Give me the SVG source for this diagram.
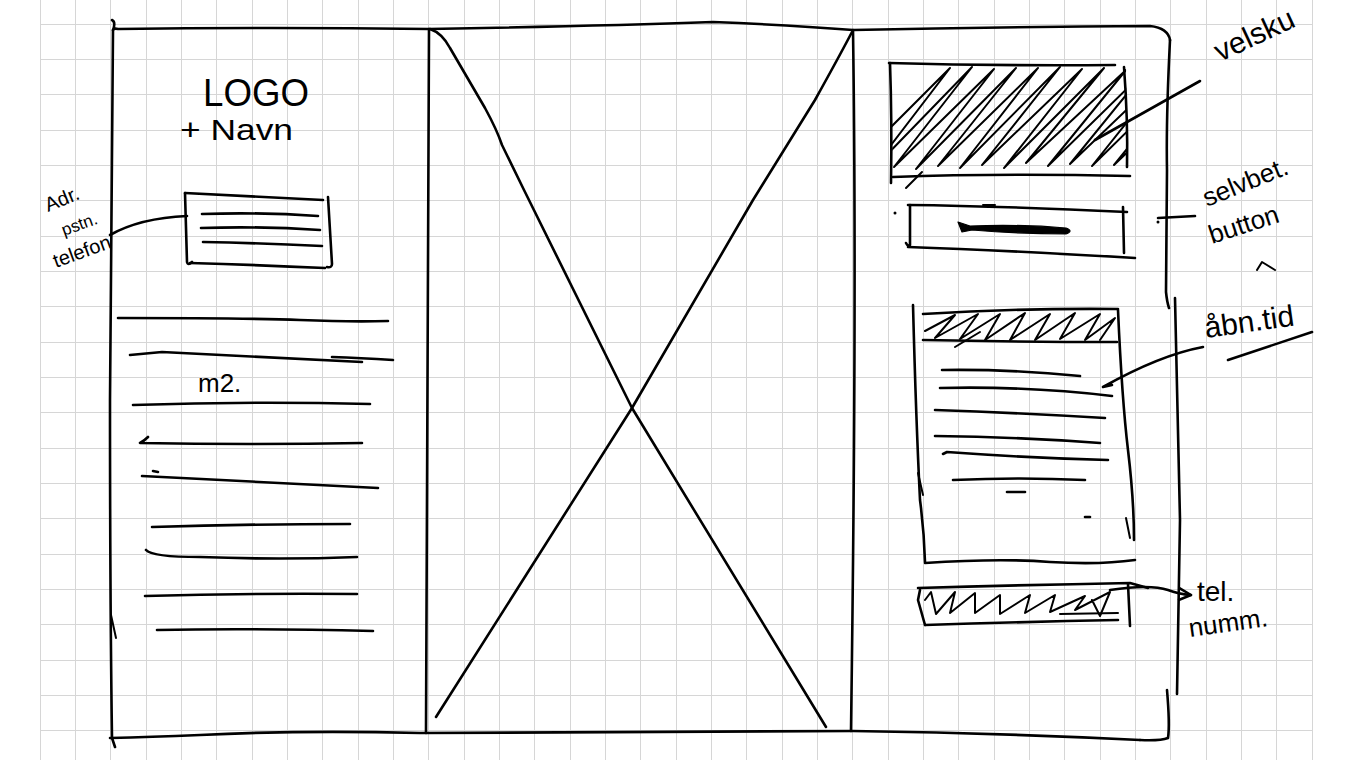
<svg xmlns="http://www.w3.org/2000/svg" width="1351" height="760" viewBox="0 0 1351 760">
<style>
.grid{fill:none;stroke:#d6d6d6;stroke-width:1}
.ink{fill:none;stroke:#000;stroke-width:2.6;stroke-linecap:round;stroke-linejoin:round}
.thin{fill:none;stroke:#000;stroke-width:2;stroke-linecap:round;stroke-linejoin:round}
.hw{font-family:"Liberation Sans","DejaVu Sans",sans-serif;fill:#000}
</style>
<defs>
<marker id="arr" viewBox="0 0 10 10" refX="9" refY="5" markerWidth="6" markerHeight="6" orient="auto" markerUnits="strokeWidth">
<path d="M1,1 L9,5 L1,9" fill="none" stroke="#000" stroke-width="1.6" stroke-linejoin="round"/>
</marker>
<clipPath id="clipHero"><path d="M890,64 L1126,66 L1127,176 L893,180 Z"/></clipPath>
</defs>
<rect width="1351" height="760" fill="#fff"/>
<path class="grid" d="M40.5 0V760M75.5 0V760M110.5 0V760M146.5 0V760M181.5 0V760M216.5 0V760M252.5 0V760M287.5 0V760M322.5 0V760M358.5 0V760M393.5 0V760M428.5 0V760M464.5 0V760M499.5 0V760M534.5 0V760M570.5 0V760M605.5 0V760M640.5 0V760M676.5 0V760M711.5 0V760M746.5 0V760M782.5 0V760M817.5 0V760M852.5 0V760M888.5 0V760M923.5 0V760M958.5 0V760M994.5 0V760M1029.5 0V760M1064.5 0V760M1100.5 0V760M1135.5 0V760M1170.5 0V760M1206.5 0V760M1241.5 0V760M1276.5 0V760M1312.5 0V760"/>
<path class="grid" d="M40 24.5H1312M40 59.5H1312M40 94.5H1312M40 130.5H1312M40 165.5H1312M40 200.5H1312M40 236.5H1312M40 271.5H1312M40 306.5H1312M40 342.5H1312M40 377.5H1312M40 412.5H1312M40 448.5H1312M40 483.5H1312M40 518.5H1312M40 554.5H1312M40 589.5H1312M40 624.5H1312M40 660.5H1312M40 695.5H1312M40 730.5H1312"/>

<g id="frame">
<path class="ink" d="M112,20 Q116,22 113,30 Q114,28 118,29 Q270,27 429,29 Q600,26 713,22 Q790,25 853,30 Q1000,27 1150,26 Q1168,28 1170,40"/>
<path class="ink" d="M1170,40 Q1166,120 1167,170 L1166,292 Q1167,302 1169,308"/>
<path class="ink" d="M1175,298 Q1178,450 1180,520 L1177,694"/>
<path class="ink" d="M1167,690 Q1170,725 1168,738 Q1160,741 1140,740"/>
<path class="ink" d="M110,738 Q150,737 200,735 Q300,730 420,733 Q620,733 853,731 Q1000,733 1140,740"/>
<path class="ink" d="M113,30 L110,400 Q110,600 112,738 L115,747"/>
<path class="thin" d="M111,615 L116,638"/>
</g>

<g id="center-image">
<path class="ink" d="M429,29 Q428,400 426,733"/>
<path class="ink" d="M853,30 Q857,300 851,731"/>
<path class="ink" d="M430,29 Q442,33 450,48 L485,108 Q497,130 502,145 L524,190 L632,408 L826,727"/>
<path class="ink" d="M852,32 Q840,55 815,100 L753,200 L632,408 L436,717"/>
</g>

<g id="logo">
<text class="hw" x="203" y="106" font-size="38" textLength="106" lengthAdjust="spacingAndGlyphs">LOGO</text>
<text class="hw" x="180" y="140" font-size="29" textLength="113" lengthAdjust="spacingAndGlyphs">+ Navn</text>
</g>

<g id="address-box">
<path class="ink" d="M185,193 Q250,196 323,200"/>
<path class="ink" d="M185,193 L187,262 Q188,266 192,262"/>
<path class="ink" d="M190,263 Q260,265 325,268"/>
<path class="ink" d="M328,197 L332,264 Q332,268 327,267"/>
<path class="ink" d="M202,214 Q260,212 318,216"/>
<path class="ink" d="M201,228 Q260,226 320,230"/>
<path class="ink" d="M203,242 Q260,243 322,246"/>
</g>

<g id="address-label">
<text class="hw" x="48" y="212" font-size="20" transform="rotate(-22 48 212)">Adr.</text>
<text class="hw" x="64" y="236" font-size="17" transform="rotate(-20 64 236)">pstn.</text>
<text class="hw" x="56" y="268" font-size="20" transform="rotate(-20 56 268)">telefon</text>
</g>

<g id="left-text">
<path class="ink" d="M118,318 Q250,318 300,320 Q350,322 388,321"/>
<path class="ink" d="M130,355 L162,352 Q250,356 362,362"/>
<path class="ink" d="M332,357 Q360,358 393,360"/>
<text class="hw" x="198" y="392" font-size="26">m2.</text>
<path class="ink" d="M133,405 Q250,401 370,404"/>
<path class="ink" d="M148,437 Q144,441 140,443 Q250,445 362,443"/>
<path class="ink" d="M153,471 L158,472"/>
<path class="ink" d="M142,476 Q250,481 378,488"/>
<path class="ink" d="M152,527 Q250,524 350,524"/>
<path class="ink" d="M146,550 Q152,557 200,557 Q280,560 357,557"/>
<path class="ink" d="M145,596 Q250,593 357,594"/>
<path class="ink" d="M157,630 Q250,628 373,631"/>
</g>

<g id="hero-image">
<path class="ink" d="M889,63 Q1000,66 1115,65"/>
<path class="ink" d="M890,63 Q892,120 891,183"/>
<path class="ink" d="M893,177 Q1000,173 1130,176"/>
<path class="ink" d="M1124,67 Q1128,120 1127,167"/>
<g clip-path="url(#clipHero)">
<path class="thin" d="M850,168 L950,68 L872,170 L972,67 L894,167 L994,69 L916,169 L1016,68 L938,166 L1038,68 L960,168 L1060,67 L982,165 L1082,69 L1004,168 L1104,68 L1026,163 L1126,70 L1048,166 L1148,68 L1070,164 L1170,68 L1092,166 L1192,68 L1114,165 L1214,70"/>
</g>
<path class="thin" d="M906,188 L922,172"/>
</g>

<g id="self-service-button">
<path class="ink" d="M908,205 Q1000,206 1127,212"/>
<path class="ink" d="M910,205 L910,245 Q908,247 906,243"/>
<path class="ink" d="M908,247 Q1000,250 1135,258"/>
<path class="ink" d="M1123,207 L1124,253"/>
<path d="M958,222 L970,226 Q1020,224 1066,228 Q1074,231 1066,234 Q1020,234 972,230 L962,232 Z" fill="#000" stroke="#000" stroke-width="1.2" stroke-linejoin="round"/>
<path class="thin" d="M983,205 L995,205"/>
<circle cx="895" cy="213" r="1.5" fill="#000"/>
<circle cx="1158" cy="222" r="1.5" fill="#000"/>
</g>

<g id="opening-hours">
<path class="ink" d="M913,305 Q916,420 920,500 Q924,530 925,562"/>
<path class="thin" d="M918,473 L923,495"/>
<path class="ink" d="M1118,310 Q1122,400 1128,450 Q1134,500 1134,540"/>
<path class="thin" d="M1126,518 L1130,538"/>
<path class="ink" d="M925,563 Q1000,558 1050,562 Q1100,565 1135,560"/>
<path class="ink" d="M923,314 Q1020,308 1118,309"/>
<path class="ink" d="M923,340 Q1020,342 1117,342"/>
<path class="thin" d="M925,331 L955,315 L935,338 L978,314 L960,339 L1000,314 L985,340 L1025,313 L1010,340 L1050,314 L1035,340 L1075,313 L1060,339 L1100,314 L1085,340 L1115,318 L1100,340"/>
<path class="thin" d="M955,347 L980,332"/>
<path class="ink" d="M942,370 Q1010,369 1080,376"/>
<path class="ink" d="M940,388 Q1030,386 1112,396"/>
<path class="ink" d="M935,410 Q1020,413 1105,418"/>
<path class="ink" d="M935,436 Q1020,437 1100,443"/>
<path class="ink" d="M943,454 L947,452 Q1030,458 1108,460"/>
<path class="ink" d="M953,480 Q1020,477 1085,480"/>
<path class="ink" d="M1007,492 L1025,492"/>
<path class="ink" d="M1085,517 L1090,517"/>
</g>

<g id="phone-bar">
<path class="ink" d="M918,588 Q1020,585 1130,583 L1148,588"/>
<path class="ink" d="M920,590 L918,600 L925,625"/>
<path class="ink" d="M925,625 Q1020,622 1118,620"/>
<path class="ink" d="M1128,584 L1130,626"/>
<path class="thin" d="M925,600 L931,592 L936,614 L955,592 L950,613 L975,593 L975,613 L1000,595 L1000,614 L1030,595 L1025,613 L1055,595 L1050,612 L1085,596 L1075,610 L1110,592 L1100,616 L1092,600"/>
<path class="thin" d="M1060,614 L1118,613"/>
</g>

<g id="labels">
<text class="hw" x="1220" y="62" font-size="30" transform="rotate(-25 1220 62)">velsku</text>
<text class="hw" x="1207" y="207" font-size="26" transform="rotate(-22 1207 207)">selvbet.</text>
<text class="hw" x="1212" y="244" font-size="26" transform="rotate(-18 1212 244)">button</text>
<path class="thin" d="M1257,270 L1262,262 L1275,270"/>
<text class="hw" x="1206" y="338" font-size="30" transform="rotate(-8 1206 338)">åbn.tid</text>
<text class="hw" x="1197" y="601" font-size="28">tel.</text>
<text class="hw" x="1190" y="637" font-size="26" transform="rotate(-8 1190 637)">numm.</text>
</g>

<g id="connectors">
<path class="ink" d="M110,235 Q140,218 187,216"/>
<path class="ink" d="M1200,81 L1095,140"/>
<path class="ink" d="M1158,218 L1195,216"/>
<path class="ink" d="M1228,360 L1312,332"/>
<path class="ink" d="M1203,347 Q1160,355 1103,387 L1112,385"/>
<path class="ink" d="M1110,590 Q1150,584 1168,590 Q1178,594 1191,595" marker-end="url(#arr)"/>
</g>
</svg>
